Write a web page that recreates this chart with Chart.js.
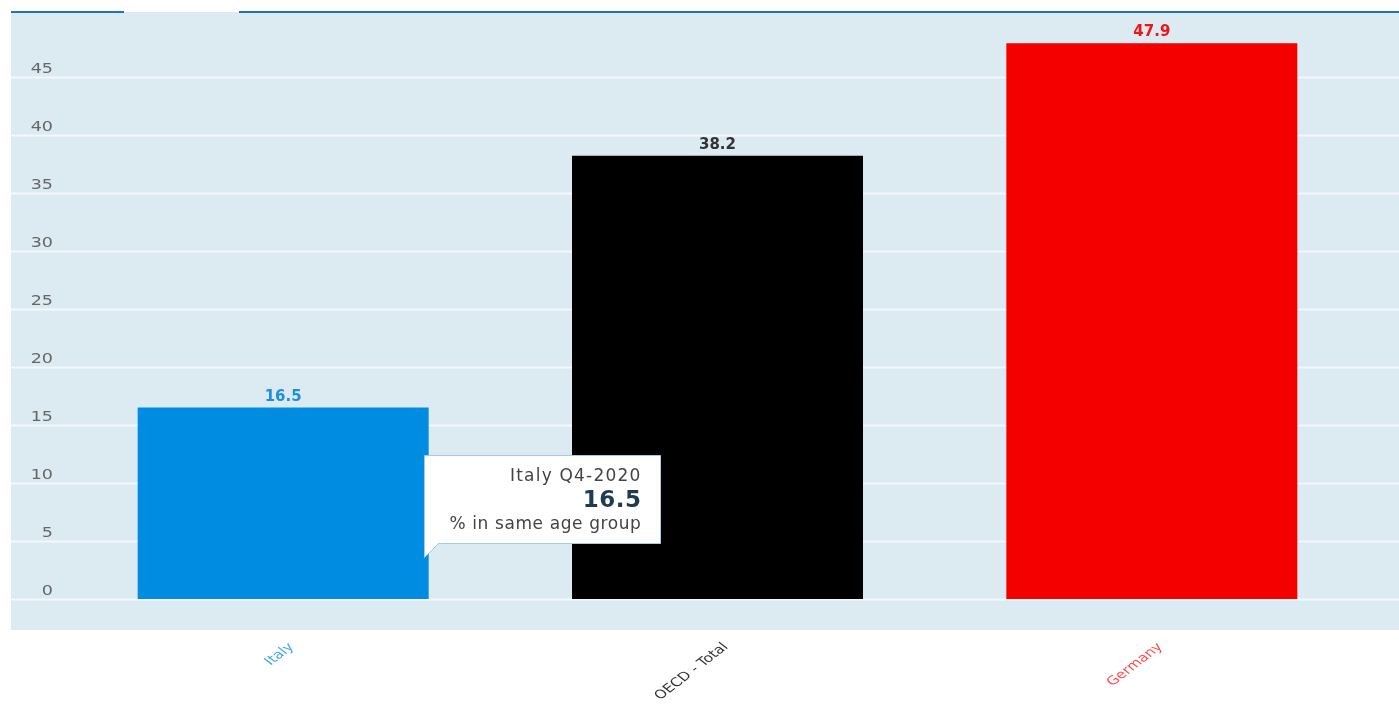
<!DOCTYPE html>
<html>
<head>
<meta charset="utf-8">
<script src="https://cdn.jsdelivr.net/npm/chart.js@4/dist/chart.umd.min.js"></script>
<style>
    html, body { margin: 0; padding: 0; background: #ffffff; }
    #wrap { width: 1399px; height: 704px; position: relative; }
</style>
</head>
<body>
<div id="wrap"><canvas id="chart"></canvas></div>
<script>
const categories = ['Italy', 'OECD - Total', 'Germany'];
const values = [16.5, 38.2, 47.9];
const barColors = ['#008de1', '#000000', '#f50000'];
const valueLabelColors = ['#1b8fe0', '#333333', '#f21313'];
const axisLabelColors = ['#45a6ee', '#333333', '#ff4f4f'];
const yTicks = [0, 5, 10, 15, 20, 25, 30, 35, 40, 45];
const tooltipLines = ['Italy Q4-2020', '16.5', '% in same age group'];

const PANEL_BG = '#dceaf2';
const GRID_COLOR = '#f3f8fb';
const STRETCH = 1.3; // the source text is a bit wide

// panel sits a bit wider than the plotting area
const panelPlugin = {
    id: 'panel',
    beforeDraw(chart) {
        const { ctx, chartArea } = chart;
        const left = chartArea.left - 55;
        const right = chart.width;
        ctx.save();
        ctx.fillStyle = PANEL_BG;
        ctx.fillRect(left, chartArea.top, right - left, chartArea.bottom - chartArea.top);

        // top border with a gap (tab)
        ctx.strokeStyle = '#1f72c2';
        ctx.lineWidth = 2;
        ctx.beginPath();
        ctx.moveTo(left, chartArea.top);
        ctx.lineTo(left + 113, chartArea.top);
        ctx.moveTo(left + 228, chartArea.top);
        ctx.lineTo(right, chartArea.top);
        ctx.stroke();

        // gridlines + y labels
        const y = chart.scales.y;
        yTicks.forEach(v => {
            const py = Math.round(y.getPixelForValue(v)) + 0.5;
            ctx.strokeStyle = GRID_COLOR;
            ctx.lineWidth = 2;
            ctx.beginPath();
            ctx.moveTo(left, py);
            ctx.lineTo(right, py);
            ctx.stroke();

            ctx.save();
            ctx.translate(left + 42, py - 5);
            ctx.scale(1.25, 1);
            ctx.font = '14px "DejaVu Sans"';
            ctx.fillStyle = '#666666';
            ctx.textAlign = 'right';
            ctx.textBaseline = 'alphabetic';
            ctx.fillText(String(v), 0, 0);
            ctx.restore();
        });

        // rotated category labels
        const x = chart.scales.x;
        categories.forEach((label, i) => {
            ctx.save();
            ctx.translate(x.getPixelForTick(i) + 3, chartArea.bottom + 11);
            ctx.scale(STRETCH, 1);
            ctx.rotate(-Math.PI / 4);
            ctx.font = '12px "DejaVu Sans"';
            ctx.fillStyle = axisLabelColors[i];
            ctx.textAlign = 'right';
            ctx.textBaseline = 'top';
            ctx.fillText(label, 0, 0);
            ctx.restore();
        });
        ctx.restore();
    }
};

const valueLabelPlugin = {
    id: 'valueLabels',
    afterDatasetsDraw(chart) {
        const { ctx } = chart;
        const meta = chart.getDatasetMeta(0);
        ctx.save();
        ctx.font = 'bold 15px "DejaVu Sans"';
        ctx.textAlign = 'center';
        ctx.textBaseline = 'alphabetic';
        meta.data.forEach((bar, i) => {
            ctx.fillStyle = valueLabelColors[i];
            ctx.fillText(values[i].toFixed(1), bar.x, bar.y - 7);
        });
        ctx.restore();
    }
};

// static hover box shown over the Italy bar
const hoverBoxPlugin = {
    id: 'hoverBox',
    afterDraw(chart) {
        const { ctx } = chart;
        const bar = chart.getDatasetMeta(0).data[0];
        const x0 = Math.round(bar.x + bar.width / 2 - 5) + 0.5;
        const tailY = Math.round(bar.base - 42) + 0.5;
        const w = 236, h = 88;
        const bottom = tailY - 14;
        const top = bottom - h;

        ctx.save();
        ctx.fillStyle = '#ffffff';
        ctx.strokeStyle = '#a3cbe6';
        ctx.lineWidth = 1;
        ctx.beginPath();
        ctx.moveTo(x0, top);
        ctx.lineTo(x0 + w, top);
        ctx.lineTo(x0 + w, bottom);
        ctx.lineTo(x0 + 14, bottom);
        ctx.lineTo(x0, tailY);
        ctx.closePath();
        ctx.fill();
        ctx.stroke();

        const tx = x0 + w - 19;
        ctx.textAlign = 'right';
        ctx.textBaseline = 'alphabetic';
        ctx.fillStyle = '#444444';
        ctx.font = '17px "DejaVu Sans"';
        ctx.letterSpacing = '1.2px';
        ctx.fillText(tooltipLines[0], tx, top + 25);
        ctx.fillStyle = '#1d3b52';
        ctx.font = 'bold 23px "DejaVu Sans"';
        ctx.letterSpacing = '0.5px';
        ctx.fillText(tooltipLines[1], tx, top + 51);
        ctx.fillStyle = '#444444';
        ctx.font = '17px "DejaVu Sans"';
        ctx.letterSpacing = '0.6px';
        ctx.fillText(tooltipLines[2], tx, top + 73);
        ctx.restore();
    }
};

Chart.defaults.font.family = '"DejaVu Sans", sans-serif';

new Chart(document.getElementById('chart').getContext('2d'), {
    type: 'bar',
    data: {
        labels: categories,
        datasets: [{
            data: values,
            backgroundColor: barColors,
            borderWidth: 0,
            categoryPercentage: 1,
            barPercentage: 0.67
        }]
    },
    options: {
        responsive: true,
        maintainAspectRatio: false,
        animation: false,
        layout: { padding: { left: 66, right: 30, top: 12, bottom: 0 } },
        plugins: {
            legend: { display: false },
            tooltip: { enabled: false }
        },
        scales: {
            x: {
                grid: { display: false },
                border: { display: false },
                ticks: { display: false },
                afterFit(scale) { scale.height = 74; }
            },
            y: {
                display: false,
                min: -2.67,
                max: 50.6
            }
        }
    },
    plugins: [panelPlugin, valueLabelPlugin, hoverBoxPlugin]
});
</script>
</body>
</html>
